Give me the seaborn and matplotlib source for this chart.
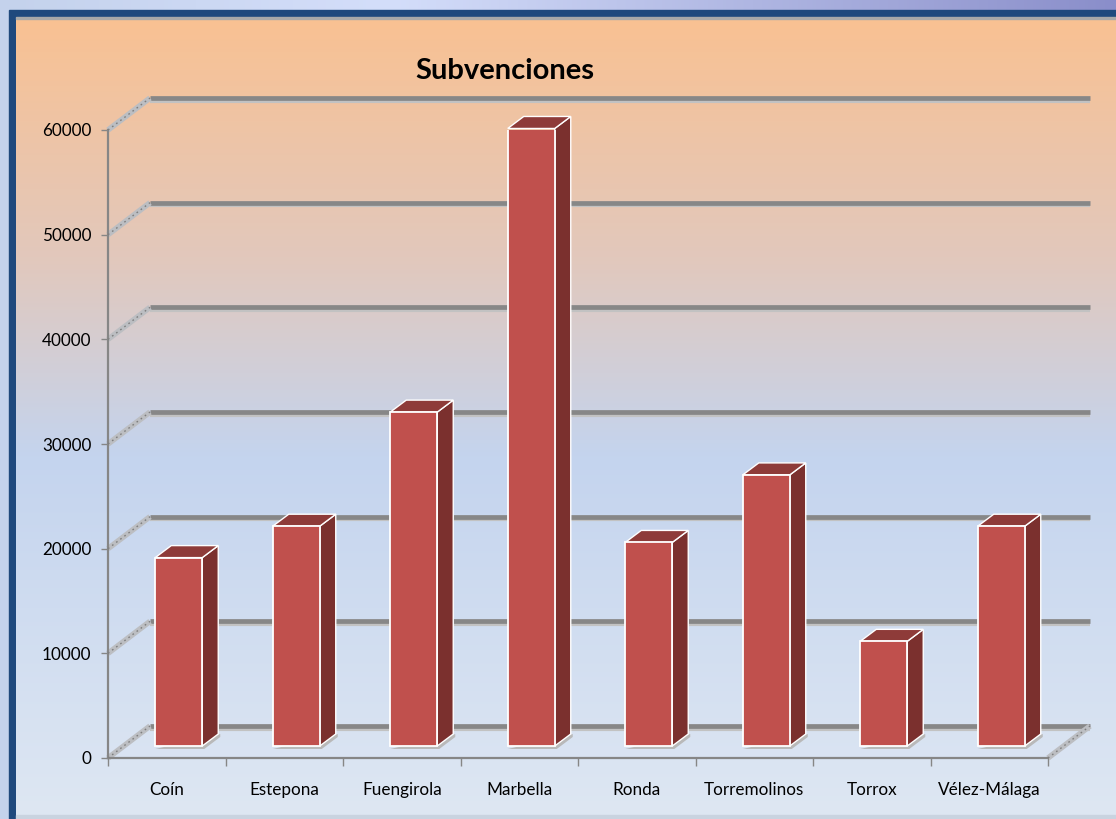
import numpy as np
import matplotlib
matplotlib.use("Agg")
import matplotlib.pyplot as plt
import matplotlib.transforms as mtransforms
from matplotlib.patches import Polygon, Rectangle
import seaborn as sns

# Datos del gráfico
municipios = ["Coín", "Estepona", "Fuengirola", "Marbella", "Ronda",
              "Torremolinos", "Torrox", "Vélez-Málaga"]
subvenciones = [18000, 21000, 31900, 59000, 19450, 25900, 10000, 21000]
y_ticks = [0, 10000, 20000, 30000, 40000, 50000, 60000]
titulo = "Subvenciones"

W, H = 1116, 819
FRONT = "#C0504D"
SIDE = "#7B302E"
TOP = "#8E3B39"
GRID = "#878787"
AXIS = "#868686"


def fr(x0, y0, x1, y1):
    # caja en pixeles (origen arriba-izquierda) -> rect de figura
    return [x0 / W, 1 - y1 / H, (x1 - x0) / W, (y1 - y0) / H]


def gradient(stops, n=400):
    pos = np.array([s[0] for s in stops])
    cols = np.array([s[1] for s in stops], dtype=float) / 255
    t = np.linspace(0, 1, n)
    return np.stack([np.interp(t, pos, cols[:, i]) for i in range(3)], axis=-1)


sns.set_theme(style="white")
plt.rcParams['font.family'] = ['Lato', 'DejaVu Sans']

fig = plt.figure(figsize=(W / 100, H / 100), dpi=100)

# ---- fondo y marco ----
bg = fig.add_axes([0, 0, 1, 1], zorder=-10)
bg.axis('off')
outer = gradient([(0, (196, 210, 236)), (0.35, (212, 222, 250)), (1, (138, 142, 202))])
bg.imshow(outer[np.newaxis, :, :], extent=[0, W, H, 0], aspect='auto', zorder=0)
bg.add_patch(Rectangle((9, 10), W, H, color="#1F497D", zorder=1))
inner = gradient([(0, (249, 193, 146)), (0.3, (226, 200, 188)),
                  (0.55, (196, 212, 238)), (1, (222, 231, 243))])
bg.imshow(inner[:, np.newaxis, :], extent=[16, W, 816, 17], aspect='auto', zorder=2)
bg.add_patch(Rectangle((16, 17), W, 1.5, color="#A8A8A8", zorder=3))
bg.add_patch(Rectangle((16, 815), W, 4, color="#C9D3E0", zorder=3))
bg.set_xlim(0, W)
bg.set_ylim(H, 0)

# ---- ejes frontales ----
ax = fig.add_axes(fr(108, 130, 1048, 758))
ax.set_facecolor("none")

sns.barplot(x=municipios, y=subvenciones, ax=ax, color=FRONT, width=0.4,
            saturation=1, edgecolor="white", linewidth=1.3, zorder=5)

ax.set_xlim(-0.5, len(municipios) - 0.5)
ax.set_ylim(0, 60000)
ax.set_yticks(y_ticks)
ax.set_xlabel("")
ax.set_ylabel("")

for s in ["top", "right"]:
    ax.spines[s].set_visible(False)
for s in ["left", "bottom"]:
    ax.spines[s].set_color(AXIS)
    ax.spines[s].set_linewidth(1.6)

ax.tick_params(axis='y', length=5, width=1, color=AXIS, direction='out',
               pad=7, labelsize=12.3, labelcolor="black", left=True)
ax.set_xticks(np.arange(-0.5, len(municipios)), minor=True)
ax.tick_params(axis='x', which='major', length=0, pad=17, labelsize=12.3,
               labelcolor="black")
ax.tick_params(axis='x', which='minor', length=6, width=1, color=AXIS,
               direction='out', bottom=True)

# profundidad 3D (pixeles)
back = ax.transData + mtransforms.ScaledTranslation(42 / 100, 32 / 100, fig.dpi_scale_trans)
shift = (12, 12)
depth = (16, 12)
ident = mtransforms.IdentityTransform()


def px(x, y, dx=0, dy=0):
    p = ax.transData.transform((x, y))
    return (p[0] + dx, p[1] + dy)


def pared(a, b):
    ax.plot([a[0], b[0]], [a[1], b[1]], transform=ident, color="#BCBEC2",
            lw=4, solid_capstyle='butt', clip_on=False, zorder=2)
    ax.plot([a[0], b[0]], [a[1], b[1]], transform=ident, color="#7E7E7E",
            lw=1, dashes=(1.2, 2.5), clip_on=False, zorder=3)


x_lo, x_hi = ax.get_xlim()

# rejilla del fondo y paredes
for v in y_ticks:
    ax.plot([x_lo, x_hi], [v, v], transform=back + mtransforms.Affine2D().translate(0, -2.5),
            color="#C2C2C2", lw=3, solid_capstyle='butt', clip_on=False, zorder=1)
    ax.plot([x_lo, x_hi], [v, v], transform=back, color=GRID, lw=3.4,
            solid_capstyle='butt', clip_on=False, zorder=2)
    pared(px(x_lo, v), px(x_lo, v, 42, 32))

pared(px(x_hi, 0), px(x_hi, 0, 42, 32))

# barras: cara frontal desplazada + lateral + superior
sx, sy = shift
dx, dy = depth
for p in ax.patches:
    p.set_transform(ax.transData + mtransforms.ScaledTranslation(sx / 100, sy / 100, fig.dpi_scale_trans))
    x0, x1 = p.get_x(), p.get_x() + p.get_width()
    h = p.get_height()
    bl, br = px(x0, 0, sx, sy), px(x1, 0, sx, sy)
    tl, tr = px(x0, h, sx, sy), px(x1, h, sx, sy)
    # sombra
    sh = [(bl[0], bl[1] - 3), (br[0] + 2, br[1] - 3), (br[0] + dx + 2, br[1] + dy - 3),
          (br[0] + dx + 2, br[1] + dy)]
    ax.add_patch(Polygon(sh, closed=True, transform=ident, facecolor="#B9B9B9",
                         edgecolor="none", clip_on=False, zorder=4))
    side = [br, tr, (tr[0] + dx, tr[1] + dy), (br[0] + dx, br[1] + dy)]
    ax.add_patch(Polygon(side, closed=True, transform=ident, facecolor=SIDE,
                         edgecolor="white", lw=1.0, clip_on=False, zorder=4.5))
    top = [tl, tr, (tr[0] + dx, tr[1] + dy), (tl[0] + dx, tl[1] + dy)]
    ax.add_patch(Polygon(top, closed=True, transform=ident, facecolor=TOP,
                         edgecolor="white", lw=1.0, clip_on=False, zorder=4.5))

fig.text(505 / W, 1 - 71 / H, titulo, ha='center', va='center',
         fontsize=21, fontweight='bold', color="black")

fig.savefig("out.png", dpi=100)
